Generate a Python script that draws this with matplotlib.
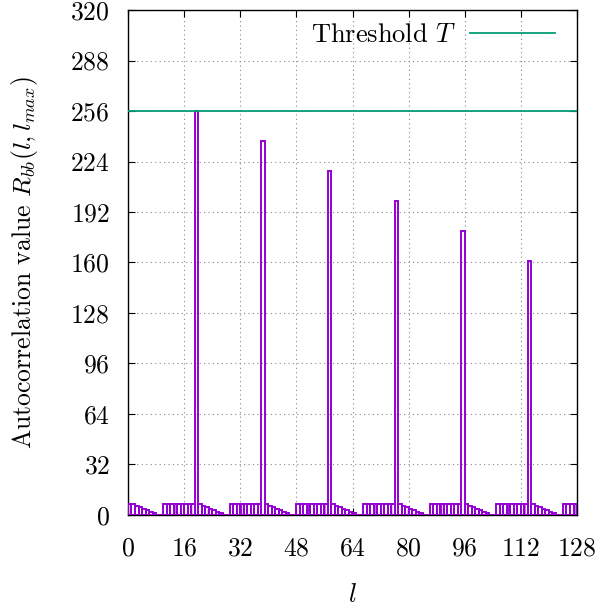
import numpy as np
import matplotlib
matplotlib.use('Agg')
import matplotlib.pyplot as plt

plt.rcParams['font.family'] = 'cmr10'
plt.rcParams['mathtext.fontset'] = 'cm'
plt.rcParams['axes.unicode_minus'] = False
plt.rcParams['axes.formatter.use_mathtext'] = True
plt.rcParams['hatch.color'] = '#9400d3'
plt.rcParams['hatch.linewidth'] = 0.8

#Lag positions and the correlation values
spike_lags = [19, 38, 57, 76, 95, 114]
spike_values = [256, 237, 218, 199, 180, 161]
start_values = [7, 7, 6, 5, 4, 3, 2, 1]
after_spike_values = [7, 6, 5, 4, 3, 2, 1]
plateau_value = 7
plateau_length = 9
threshold = 256
n_lags = 128

x_ticks = list(range(0, 129, 16))
y_ticks = list(range(0, 321, 32))

#Build the value of every lag from the pieces above
values = np.zeros(n_lags)
values[:len(start_values)] = start_values
for s, v in zip(spike_lags, spike_values):
    values[s - plateau_length:s] = plateau_value
    values[s] = v
    stop = min(s + 1 + len(after_spike_values), n_lags)
    values[s + 1:stop] = after_spike_values[:stop - s - 1]
#The last plateau runs into the right edge
last_start = spike_lags[-1] + 19 - plateau_length
values[last_start:] = plateau_value
lags = np.arange(n_lags)

fig = plt.figure(figsize=(6.0, 6.07), dpi=100)
ax = fig.add_axes([0.2133, 0.1516, 0.7484, 0.8319])

ax.bar(lags, values, width=1.0, align='edge', facecolor='none',
       edgecolor='#9400d3', linewidth=1.4, hatch='|', zorder=3)

ax.axhline(threshold, color='#009e73', linewidth=1.3, label='Threshold $T$', zorder=4)

ax.set_xlim(0, 128)
ax.set_ylim(0, 320)
ax.set_xticks(x_ticks)
ax.set_yticks(y_ticks)
ax.tick_params(direction='in', length=5, width=0.8, top=True, right=True,
               labelsize=18.5)
ax.tick_params(axis='x', pad=16)
ax.tick_params(axis='y', pad=13)
ax.grid(True, linestyle=(0, (1, 3)), color='#888888', linewidth=0.8)
ax.set_axisbelow(True)
for sp in ax.spines.values():
    sp.set_linewidth(1.0)

ax.set_xlabel('$l$', fontsize=19, labelpad=16)
ax.set_ylabel('Autocorrelation value $R_{bb}(l, l_{max})$', fontsize=18.5, labelpad=22)

ax.legend(loc='upper right', bbox_to_anchor=(0.98, 1.0), frameon=False,
          markerfirst=False, fontsize=19, handlelength=3.2,
          borderaxespad=0.1, handletextpad=0.55)

fig.savefig('out.png', dpi=100)
